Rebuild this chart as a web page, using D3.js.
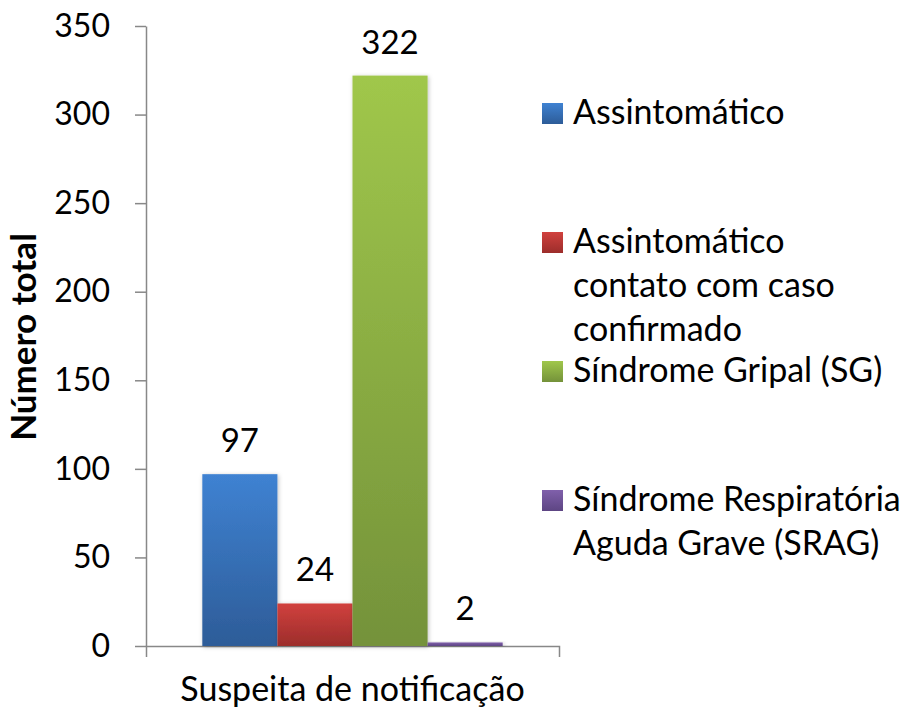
<!DOCTYPE html>
<html>
<head>
<meta charset="utf-8">
<script src="https://cdn.jsdelivr.net/npm/d3@7"></script>
<style>
  body { margin: 0; background: #fff; }
  text { font-family: Lato, "Open Sans", sans-serif; fill: #000; }
</style>
</head>
<body>
<div id="chart"></div>
<script>
const categories = ["Suspeita de notificação"]
const series = [
  "Assintomático",
  "Assintomático contato com caso confirmado",
  "Síndrome Gripal (SG)",
  "Síndrome Respiratória Aguda Grave (SRAG)",
]
const legendLines = [
  ["Assintomático"],
  ["Assintomático", "contato com caso", "confirmado"],
  ["Síndrome Gripal (SG)"],
  ["Síndrome Respiratória", "Aguda Grave (SRAG)"],
]
const values = [97, 24, 322, 2]
const yTicks = [0, 50, 100, 150, 200, 250, 300, 350]
const colors = [
  { top: "#3f82d2", bottom: "#2d5c98" },
  { top: "#d1413e", bottom: "#9c2d2b" },
  { top: "#a0c74b", bottom: "#74923a" },
  { top: "#8060ab", bottom: "#5d4583" },
]

const width = 912
const height = 711
const margin = { top: 26, right: 353, bottom: 65, left: 146 }

const svg = d3.select("#chart")
  .append("svg")
  .attr("width", width)
  .attr("height", height)

const defs = svg.append("defs")
colors.forEach((c, i) => {
  const g = defs.append("linearGradient")
    .attr("id", `grad${i}`)
    .attr("x1", 0).attr("y1", 0).attr("x2", 0).attr("y2", 1)
  g.append("stop").attr("offset", "0%").attr("stop-color", c.top)
  g.append("stop").attr("offset", "100%").attr("stop-color", c.bottom)
})
const shadow = defs.append("filter").attr("id", "shadow")
  .attr("x", "-20%").attr("y", "-20%").attr("width", "140%").attr("height", "140%")
shadow.append("feDropShadow")
  .attr("dx", 1).attr("dy", 1).attr("stdDeviation", 2)
  .attr("flood-color", "#000").attr("flood-opacity", 0.25)

const y = d3.scaleLinear()
  .domain([0, 350])
  .range([height - margin.bottom, margin.top])

const xCat = d3.scaleBand()
  .domain(categories)
  .range([margin.left, width - margin.right])

const xSeries = d3.scaleBand()
  .domain(series)
  .range([0, xCat.bandwidth()])
  .paddingInner(0)
  .paddingOuter(0.75)

// y axis
const yAxis = svg.append("g")
  .attr("transform", `translate(${margin.left},0)`)
  .call(d3.axisLeft(y).tickValues(yTicks).tickSize(11).tickPadding(25).tickSizeOuter(0))
yAxis.select(".domain").attr("stroke", "#888").attr("stroke-width", 1.5)
yAxis.selectAll(".tick line").attr("stroke", "#888").attr("stroke-width", 1.5)
yAxis.selectAll(".tick text")
  .style("font-family", "Lato, sans-serif")
  .style("font-size", "32px")
  .attr("fill", "#000")

// x axis
const xAxis = svg.append("g")
  .attr("transform", `translate(0,${y(0)})`)
  .call(d3.axisBottom(xCat).tickSize(0).tickPadding(31).tickSizeOuter(11))
xAxis.select(".domain").attr("stroke", "#888").attr("stroke-width", 1.5)
xAxis.selectAll(".tick text")
  .style("font-family", "Lato, sans-serif")
  .style("font-size", "34px")
  .attr("fill", "#000")
  .attr("dy", "0.71em")

// bars
const group = svg.append("g")
  .attr("transform", `translate(${xCat(categories[0])},0)`)

group.selectAll("rect")
  .data(values)
  .join("rect")
  .attr("x", (d, i) => xSeries(series[i]))
  .attr("y", d => y(d))
  .attr("width", xSeries.bandwidth())
  .attr("height", d => y(0) - y(d))
  .attr("fill", (d, i) => `url(#grad${i})`)
  .attr("filter", "url(#shadow)")

group.selectAll(".label")
  .data(values)
  .join("text")
  .attr("class", "label")
  .attr("x", (d, i) => xSeries(series[i]) + xSeries.bandwidth() / 2)
  .attr("y", d => y(d) - 22)
  .attr("text-anchor", "middle")
  .style("font-size", "33px")
  .text(d => d)

// y title
svg.append("text")
  .attr("transform", `translate(36,337) rotate(-90)`)
  .attr("text-anchor", "middle")
  .style("font-size", "35px")
  .style("font-weight", "bold")
  .text("Número total")

// legend
const legendTop = [103, 232, 361, 490]
const legend = svg.append("g")
const items = legend.selectAll("g")
  .data(series)
  .join("g")
  .attr("transform", (d, i) => `translate(542,${legendTop[i]})`)

items.append("rect")
  .attr("width", 21)
  .attr("height", 21)
  .attr("fill", (d, i) => `url(#grad${i})`)

items.each(function (d, i) {
  const t = d3.select(this).append("text")
    .style("font-size", "34px")
  legendLines[i].forEach((line, j) => {
    t.append("tspan").attr("x", 31).attr("y", 21 + j * 44).text(line)
  })
})
</script>
</body>
</html>
